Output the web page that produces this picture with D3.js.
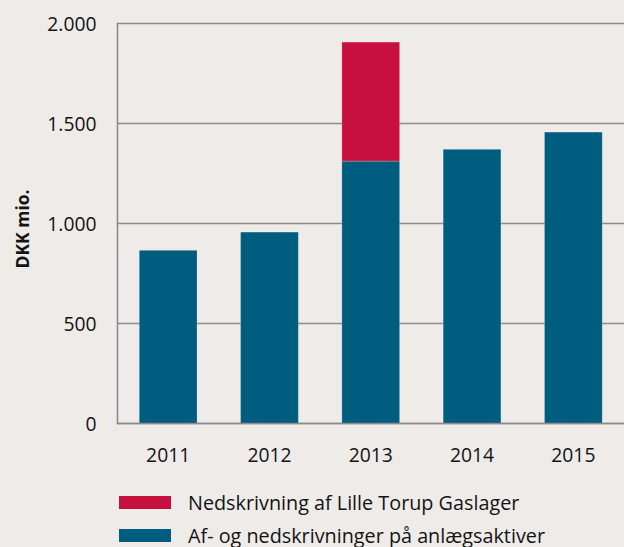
<!DOCTYPE html>
<html>
<head>
<meta charset="utf-8">
<script src="https://cdn.jsdelivr.net/npm/d3@7"></script>
<style>
  html, body { margin: 0; padding: 0; background: #eeebe8; }
  svg { display: block; font-family: "Open Sans", "Noto Sans", sans-serif; }
</style>
</head>
<body>
<svg id="chart" width="624" height="547"></svg>
<script>
// Af- og nedskrivninger, DKK mio.
const years = ["2011", "2012", "2013", "2014", "2015"];
const anlaeg = [866, 957, 1312, 1371, 1457];      // Af- og nedskrivninger på anlægsaktiver
const gaslager = [0, 0, 595, 0, 0];                // Nedskrivning af Lille Torup Gaslager
const yTicks = [0, 500, 1000, 1500, 2000];
const seriesNames = ["Nedskrivning af Lille Torup Gaslager", "Af- og nedskrivninger på anlægsaktiver"];
const colors = { gaslager: "#c8103f", anlaeg: "#015d80" };

const svg = d3.select("#chart");
const plotLeft = 117.5, plotRight = 624, plotTop = 23.5, plotBottom = 423.5;

const x = d3.scaleBand().domain(years).range([plotLeft, plotRight]).paddingInner(0.43).paddingOuter(0.215);
const y = d3.scaleLinear().domain([0, 2000]).range([plotBottom, plotTop]);

// horizontal grid lines
svg.append("g").selectAll("line").data(yTicks).join("line")
  .attr("x1", plotLeft).attr("x2", plotRight)
  .attr("y1", d => y(d)).attr("y2", d => y(d))
  .attr("stroke", "#8c8c8c").attr("stroke-width", 1.6);

// y-axis labels
const yAxis = d3.axisLeft(y).tickValues(yTicks).tickSize(0).tickPadding(0)
  .tickFormat(d => d3.format(",")(d).replace(/,/g, "."));
const gy = svg.append("g").attr("transform", `translate(${plotLeft - 21},0)`).call(yAxis);
gy.select(".domain").remove();
gy.selectAll("text").attr("font-size", 19.3).attr("fill", "#141414")
  .attr("font-family", "'Open Sans', sans-serif").attr("dy", "0.36em");

// stacked bars
const stackData = years.map((yr, i) => ({ year: yr, anlaeg: anlaeg[i], gaslager: gaslager[i] }));
const stack = d3.stack().keys(["anlaeg", "gaslager"])(stackData);
svg.append("g").selectAll("g").data(stack).join("g")
  .attr("fill", d => colors[d.key])
  .selectAll("rect").data(d => d.filter(p => p[1] > p[0])).join("rect")
  .attr("x", d => x(d.data.year))
  .attr("width", x.bandwidth())
  .attr("y", d => y(d[1]))
  .attr("height", d => y(d[0]) - y(d[1]))
  .attr("stroke", "rgba(255,255,255,0.25)").attr("stroke-width", 0.8);

// left axis line
svg.append("line").attr("x1", plotLeft).attr("x2", plotLeft).attr("y1", plotTop - 0.8).attr("y2", plotBottom + 0.8)
  .attr("stroke", "#8c8c8c").attr("stroke-width", 1.6);
// baseline over bars
svg.append("line").attr("x1", plotLeft).attr("x2", plotRight).attr("y1", plotBottom).attr("y2", plotBottom)
  .attr("stroke", "#8c8c8c").attr("stroke-width", 1.6);

// x-axis labels
const xAxis = d3.axisBottom(x).tickSize(0).tickPadding(0);
const gx = svg.append("g").attr("transform", `translate(0,${plotBottom})`).call(xAxis);
gx.select(".domain").remove();
gx.selectAll("text").attr("font-size", 19.3).attr("fill", "#141414")
  .attr("font-family", "'Open Sans', sans-serif").attr("dy", null).attr("y", 38.5);

// y-axis title
svg.append("text")
  .attr("transform", "translate(28.5,229) rotate(-90)")
  .attr("text-anchor", "middle")
  .attr("font-size", 17.5).attr("font-weight", "bold").attr("fill", "#141414")
  .text("DKK mio.");

// legend
const legend = svg.append("g");
const legendItems = [
  { name: seriesNames[0], color: colors.gaslager },
  { name: seriesNames[1], color: colors.anlaeg }
];
legend.selectAll("rect").data(legendItems).join("rect")
  .attr("x", 119).attr("y", (d, i) => 496 + i * 33)
  .attr("width", 52).attr("height", 13)
  .attr("fill", d => d.color);
legend.selectAll("text").data(legendItems).join("text")
  .attr("x", 188).attr("y", (d, i) => 509.5 + i * 33)
  .attr("font-size", 19.8).attr("fill", "#141414")
  .text(d => d.name);
</script>
</body>
</html>
